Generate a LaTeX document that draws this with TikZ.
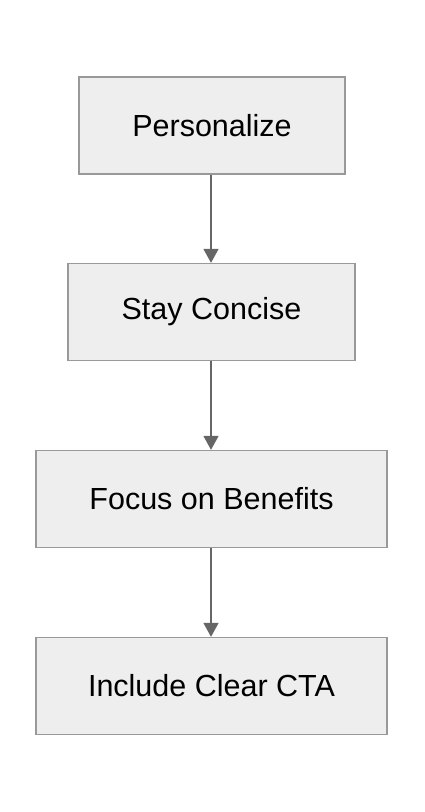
\documentclass[tikz,border=0pt]{standalone}
\usepackage{fontspec}
\setmainfont{Liberation Sans}
\usetikzlibrary{arrows.meta}
\definecolor{boxfill}{HTML}{EEEEEE}
\definecolor{boxline}{HTML}{999999}
\definecolor{arrowc}{HTML}{666666}
\begin{document}
\begin{tikzpicture}[x=1pt,y=-1pt,
  stepbox/.style={draw=boxline,fill=boxfill,line width=1.3pt,minimum height=97pt,inner sep=0pt,font=\fontsize{30.5}{36}\selectfont},
  flow/.style={draw=arrowc,line width=1.5pt,-{Triangle[length=14pt,width=15pt]}}]
\useasboundingbox (0,0) rectangle (424,812);
\node[stepbox,minimum width=266pt] (p) at (212,125.5) {Personalize};
\node[stepbox,minimum width=287pt] (s) at (211.5,312) {Stay Concise};
\node[stepbox,minimum width=351pt] (f) at (211.5,499) {Focus on Benefits};
\node[stepbox,minimum width=351pt] (c) at (211.5,686) {Include Clear CTA};
\draw[flow] (p.south -| 211,0) -- (s.north -| 211,0);
\draw[flow] (s.south -| 211,0) -- (f.north -| 211,0);
\draw[flow] (f.south -| 211,0) -- (c.north -| 211,0);
\end{tikzpicture}
\end{document}
